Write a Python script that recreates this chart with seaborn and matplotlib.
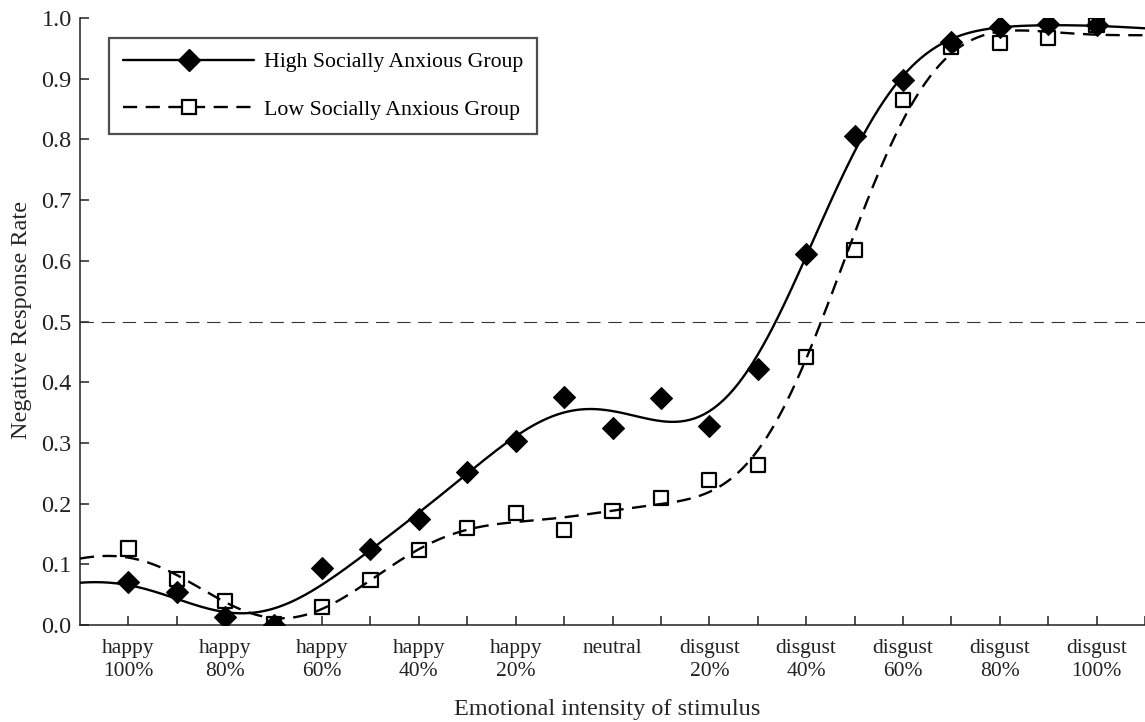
import numpy as np
import pandas as pd
import matplotlib
matplotlib.use("Agg")
import matplotlib.pyplot as plt
from matplotlib.lines import Line2D
from matplotlib.ticker import FormatStrFormatter, FixedLocator
import seaborn as sns

# ---------------- data ----------------
positions = list(range(1, 22))
high_group = [0.071, 0.054, 0.013, 0.000, 0.094, 0.126, 0.175, 0.252, 0.303, 0.376,
              0.325, 0.374, 0.328, 0.422, 0.612, 0.806, 0.898, 0.961, 0.985, 0.990, 0.989]
low_group = [0.126, 0.076, 0.039, 0.001, 0.030, 0.074, 0.124, 0.160, 0.185, 0.157,
             0.188, 0.209, 0.239, 0.264, 0.442, 0.618, 0.865, 0.952, 0.959, 0.967, 0.988]
label_positions = [1, 3, 5, 7, 9, 11, 13, 15, 17, 19, 21]
tick_labels = ["happy\n100%", "happy\n80%", "happy\n60%", "happy\n40%", "happy\n20%",
               "neutral", "disgust\n20%", "disgust\n40%", "disgust\n60%",
               "disgust\n80%", "disgust\n100%"]
minor_positions = [2, 4, 6, 8, 10, 12, 14, 16, 18, 20, 22]
y_ticks = [0.0, 0.1, 0.2, 0.3, 0.4, 0.5, 0.6, 0.7, 0.8, 0.9, 1.0]
threshold = 0.5
series_names = ["High Socially Anxious Group", "Low Socially Anxious Group"]


def fitted_curve(xs, ys, sig=1.7, lam=0.15, lo=0.0, hi=22.0, step=0.05):
    """Smooth fit: logistic trend (fixed asymptotes) + ridge Gaussian-RBF residual."""
    x = np.asarray(xs, float)
    y = np.asarray(ys, float)
    bottom, top = y[:4].mean(), y[-3:].mean()
    best = None
    for c in np.linspace(8, 18, 101):
        for s in np.linspace(0.3, 5, 95):
            pred = bottom + (top - bottom) / (1 + np.exp(-(x - c) / s))
            sse = np.sum((pred - y) ** 2)
            if best is None or sse < best[0]:
                best = (sse, c, s)
    _, c, s = best

    def trend(t):
        return bottom + (top - bottom) / (1 + np.exp(-(np.asarray(t) - c) / s))

    def basis(t):
        return np.exp(-0.5 * ((np.atleast_1d(t)[:, None] - x[None, :]) / sig) ** 2)

    a = basis(x)
    w = np.linalg.solve(a.T @ a + lam * np.eye(len(x)), a.T @ (y - trend(x)))
    grid = np.arange(lo, hi + step / 2, step)
    return grid, trend(grid) + basis(grid) @ w


gx, high_fit = fitted_curve(positions, high_group)
_, low_fit = fitted_curve(positions, low_group)
fit_df = pd.DataFrame({"x": gx, "high": high_fit, "low": low_fit})
pts_df = pd.DataFrame({"x": positions, "high": high_group, "low": low_group})

# ---------------- style ----------------
sns.set_theme(style="ticks")
plt.rcParams["font.family"] = ["Liberation Serif", "DejaVu Serif"]
plt.rcParams["axes.edgecolor"] = "#222222"
plt.rcParams["xtick.color"] = "#222222"
plt.rcParams["ytick.color"] = "#222222"
plt.rcParams["text.color"] = "black"

fig = plt.figure(figsize=(11.45, 7.22), dpi=100)
ax = fig.add_axes([80 / 1145, 97 / 722, 1065 / 1145, 607 / 722])

# fitted curves
sns.lineplot(data=fit_df, x="x", y="high", color="black", linewidth=1.7,
             estimator=None, ax=ax, zorder=3)
sns.lineplot(data=fit_df, x="x", y="low", color="black", linewidth=1.7,
             linestyle=(0, (6, 3.6)), estimator=None, ax=ax, zorder=3)

# threshold line
ax.axhline(threshold, color="#333333", linewidth=0.8, linestyle=(0, (12, 7)), zorder=1)

# data points
sns.scatterplot(data=pts_df, x="x", y="low", marker="s", s=105,
                facecolor="none", edgecolor="black", linewidth=1.6, ax=ax, zorder=4)
sns.scatterplot(data=pts_df, x="x", y="high", marker="D", s=125,
                color="black", edgecolor="black", linewidth=0.8, ax=ax, zorder=5)

# axes
ax.set_xlim(0, 22)
ax.set_ylim(0, 1)
ax.set_yticks(y_ticks)
ax.yaxis.set_major_formatter(FormatStrFormatter("%.1f"))
ax.set_xticks(label_positions)
ax.set_xticklabels(tick_labels, linespacing=1.3)
ax.xaxis.set_minor_locator(FixedLocator(minor_positions))
ax.tick_params(axis="both", which="both", direction="in", length=6.5, width=1.1)
ax.tick_params(axis="x", which="major", labelsize=15.5, pad=10)
ax.tick_params(axis="y", which="major", labelsize=17.5, pad=6)
for s in ["top", "right"]:
    ax.spines[s].set_visible(False)
for s in ["left", "bottom"]:
    ax.spines[s].set_linewidth(1.1)

ax.set_xlabel("Emotional intensity of stimulus", fontsize=17.5)
ax.set_ylabel("Negative Response Rate", fontsize=17.5)
ax.xaxis.set_label_coords(0.495, -0.122)
ax.yaxis.set_label_coords(-0.045, 0.502)

# legend
handles = [
    Line2D([], [], color="black", linewidth=1.7, marker="D", markersize=11,
           markerfacecolor="black", markeredgecolor="black"),
    Line2D([], [], color="black", linewidth=1.7, linestyle=(0, (6, 3.6)), marker="s",
           markersize=10, markerfacecolor="white", markeredgecolor="black",
           markeredgewidth=1.6),
]
leg = ax.legend(handles, series_names, loc="upper left",
                bbox_to_anchor=(0.0272, 0.967), borderaxespad=0, fontsize=15.7,
                handlelength=6.0, handletextpad=0.45, borderpad=0.65,
                labelspacing=1.25, numpoints=1, frameon=True, fancybox=False)
leg.get_frame().set_edgecolor("#222222")
leg.get_frame().set_linewidth(1.6)

fig.savefig("out.png", dpi=100)
